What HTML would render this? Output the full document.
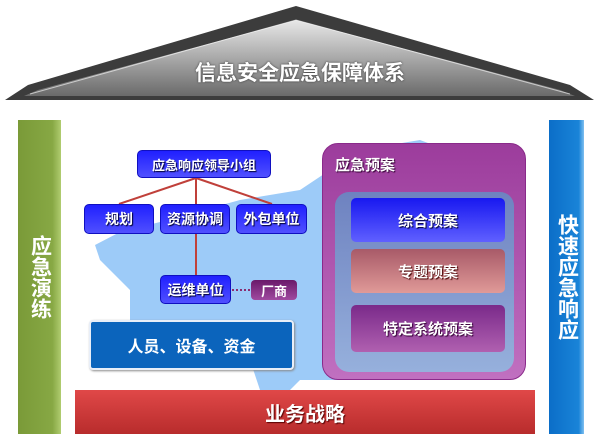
<!DOCTYPE html><html><head><meta charset="utf-8"><style>
body{margin:0;width:600px;height:448px;background:#fff;position:relative;overflow:hidden;font-family:"Liberation Sans","Noto Sans CJK SC",sans-serif;font-weight:bold}
.a{position:absolute;box-sizing:border-box;display:flex;align-items:center;justify-content:center;color:#fff}
.b{background:linear-gradient(#2020ff,#5050ff);border:1px solid #1010c0;border-radius:5px;font-size:14px;text-shadow:1px 1px 1px #003}
.v{writing-mode:vertical-rl;font-size:21px;letter-spacing:0}
</style></head><body>
<svg width="600" height="448" style="position:absolute;left:0;top:0">
<defs><linearGradient id="r" x1="0" y1="0" x2="0" y2="1"><stop offset="0" stop-color="#e8e8e8"/><stop offset="1" stop-color="#6a6a6a"/></linearGradient></defs>
<polygon points="296,6 570,85 594,100 5,100 28,85" fill="#3c3c3c"/>
<polygon points="296,20 560,90 575,96 24,96 38,90" fill="url(#r)"/>
<polyline points="30,94 296,20 570,94" fill="none" stroke="#fff" stroke-width="1" opacity=".6"/>
<text x="300" y="80" font-size="21" fill="#fff" text-anchor="middle" font-weight="bold" font-family="Liberation Sans,Noto Sans CJK SC,sans-serif" style="text-shadow:0 0 2px #333">信息安全应急保障体系</text>
<path d="M120,232 L160,222 L240,200 L300,190 L330,170 L360,150 L420,140 L500,170 L520,200 L520,300 L500,380 L300,380 L290,390 L260,390 L250,360 L200,370 L150,330 L130,320 L130,290 L100,260 L95,245Z" fill="#9dcbf8"/>
<path d="M300,190 L360,150 L430,145 L480,170 L470,200 L420,220 L360,225 L320,240 Z" fill="#7a8fcf" opacity=".0"/>
<g stroke="#c0403a" stroke-width="2" fill="none"><path d="M196,178 L119,204 M196,178 L196,204 M196,178 L272,204 M196,234 L196,275"/></g>
<path d="M232,290 L250,290" stroke="#8a2c70" stroke-width="2" stroke-dasharray="2,2"/>
</svg>
<div class="a v" style="left:18px;top:120px;width:43px;height:314px;background:linear-gradient(90deg,#7a9a38,#87a844 80%,#b0cc70);justify-content:center">应急演练</div>
<div class="a v" style="left:549px;top:120px;width:35px;height:314px;background:linear-gradient(90deg,#0b6ec8,#1a84d8 85%,#80c0f0)">快速应急响应</div>
<div class="a" style="left:75px;top:390px;width:460px;height:44px;background:linear-gradient(#e04848,#b82c2c);font-size:20px;text-shadow:1px 1px 1px #500">业务战略</div>
<div class="a" style="left:322px;top:143px;width:204px;height:237px;border-radius:16px;background:linear-gradient(#9c3c9c,#c070c0);border:1px solid #8a2a8a;align-items:flex-start;justify-content:flex-start;padding:10px 0 0 12px;font-size:15px;text-shadow:1px 1px 1px #303">应急预案</div>
<div class="a" style="left:335px;top:192px;width:179px;height:180px;border-radius:14px;background:linear-gradient(#6e82c0,#96b0dc)"></div>
<div class="a" style="left:351px;top:198px;width:154px;height:44px;border-radius:5px;background:linear-gradient(#1818f0,#6060ff);font-size:15px;text-shadow:1px 1px 1px #003">综合预案</div>
<div class="a" style="left:351px;top:249px;width:154px;height:44px;border-radius:5px;background:linear-gradient(#a85a68,#e09a98);font-size:15px;text-shadow:1px 1px 1px #400">专题预案</div>
<div class="a" style="left:351px;top:305px;width:154px;height:47px;border-radius:5px;background:linear-gradient(#7a2a8a,#b060b0);font-size:15px;text-shadow:1px 1px 1px #303">特定系统预案</div>
<div class="a b" style="left:137px;top:150px;width:134px;height:28px;font-size:13px">应急响应领导小组</div>
<div class="a b" style="left:84px;top:204px;width:70px;height:30px">规划</div>
<div class="a b" style="left:160px;top:204px;width:70px;height:30px">资源协调</div>
<div class="a b" style="left:236px;top:204px;width:71px;height:30px">外包单位</div>
<div class="a b" style="left:160px;top:275px;width:71px;height:29px">运维单位</div>
<div class="a" style="left:251px;top:280px;width:46px;height:20px;border-radius:4px;background:linear-gradient(#6a1a6a,#a04aa0);font-size:13px">厂商</div>
<div class="a" style="left:89px;top:320px;width:205px;height:50px;border-radius:4px;background:#0b64bc;border:2px solid #e8eef8;box-shadow:1px 1px 2px #888;font-size:16px">人员、设备、资金</div>
</body></html>
